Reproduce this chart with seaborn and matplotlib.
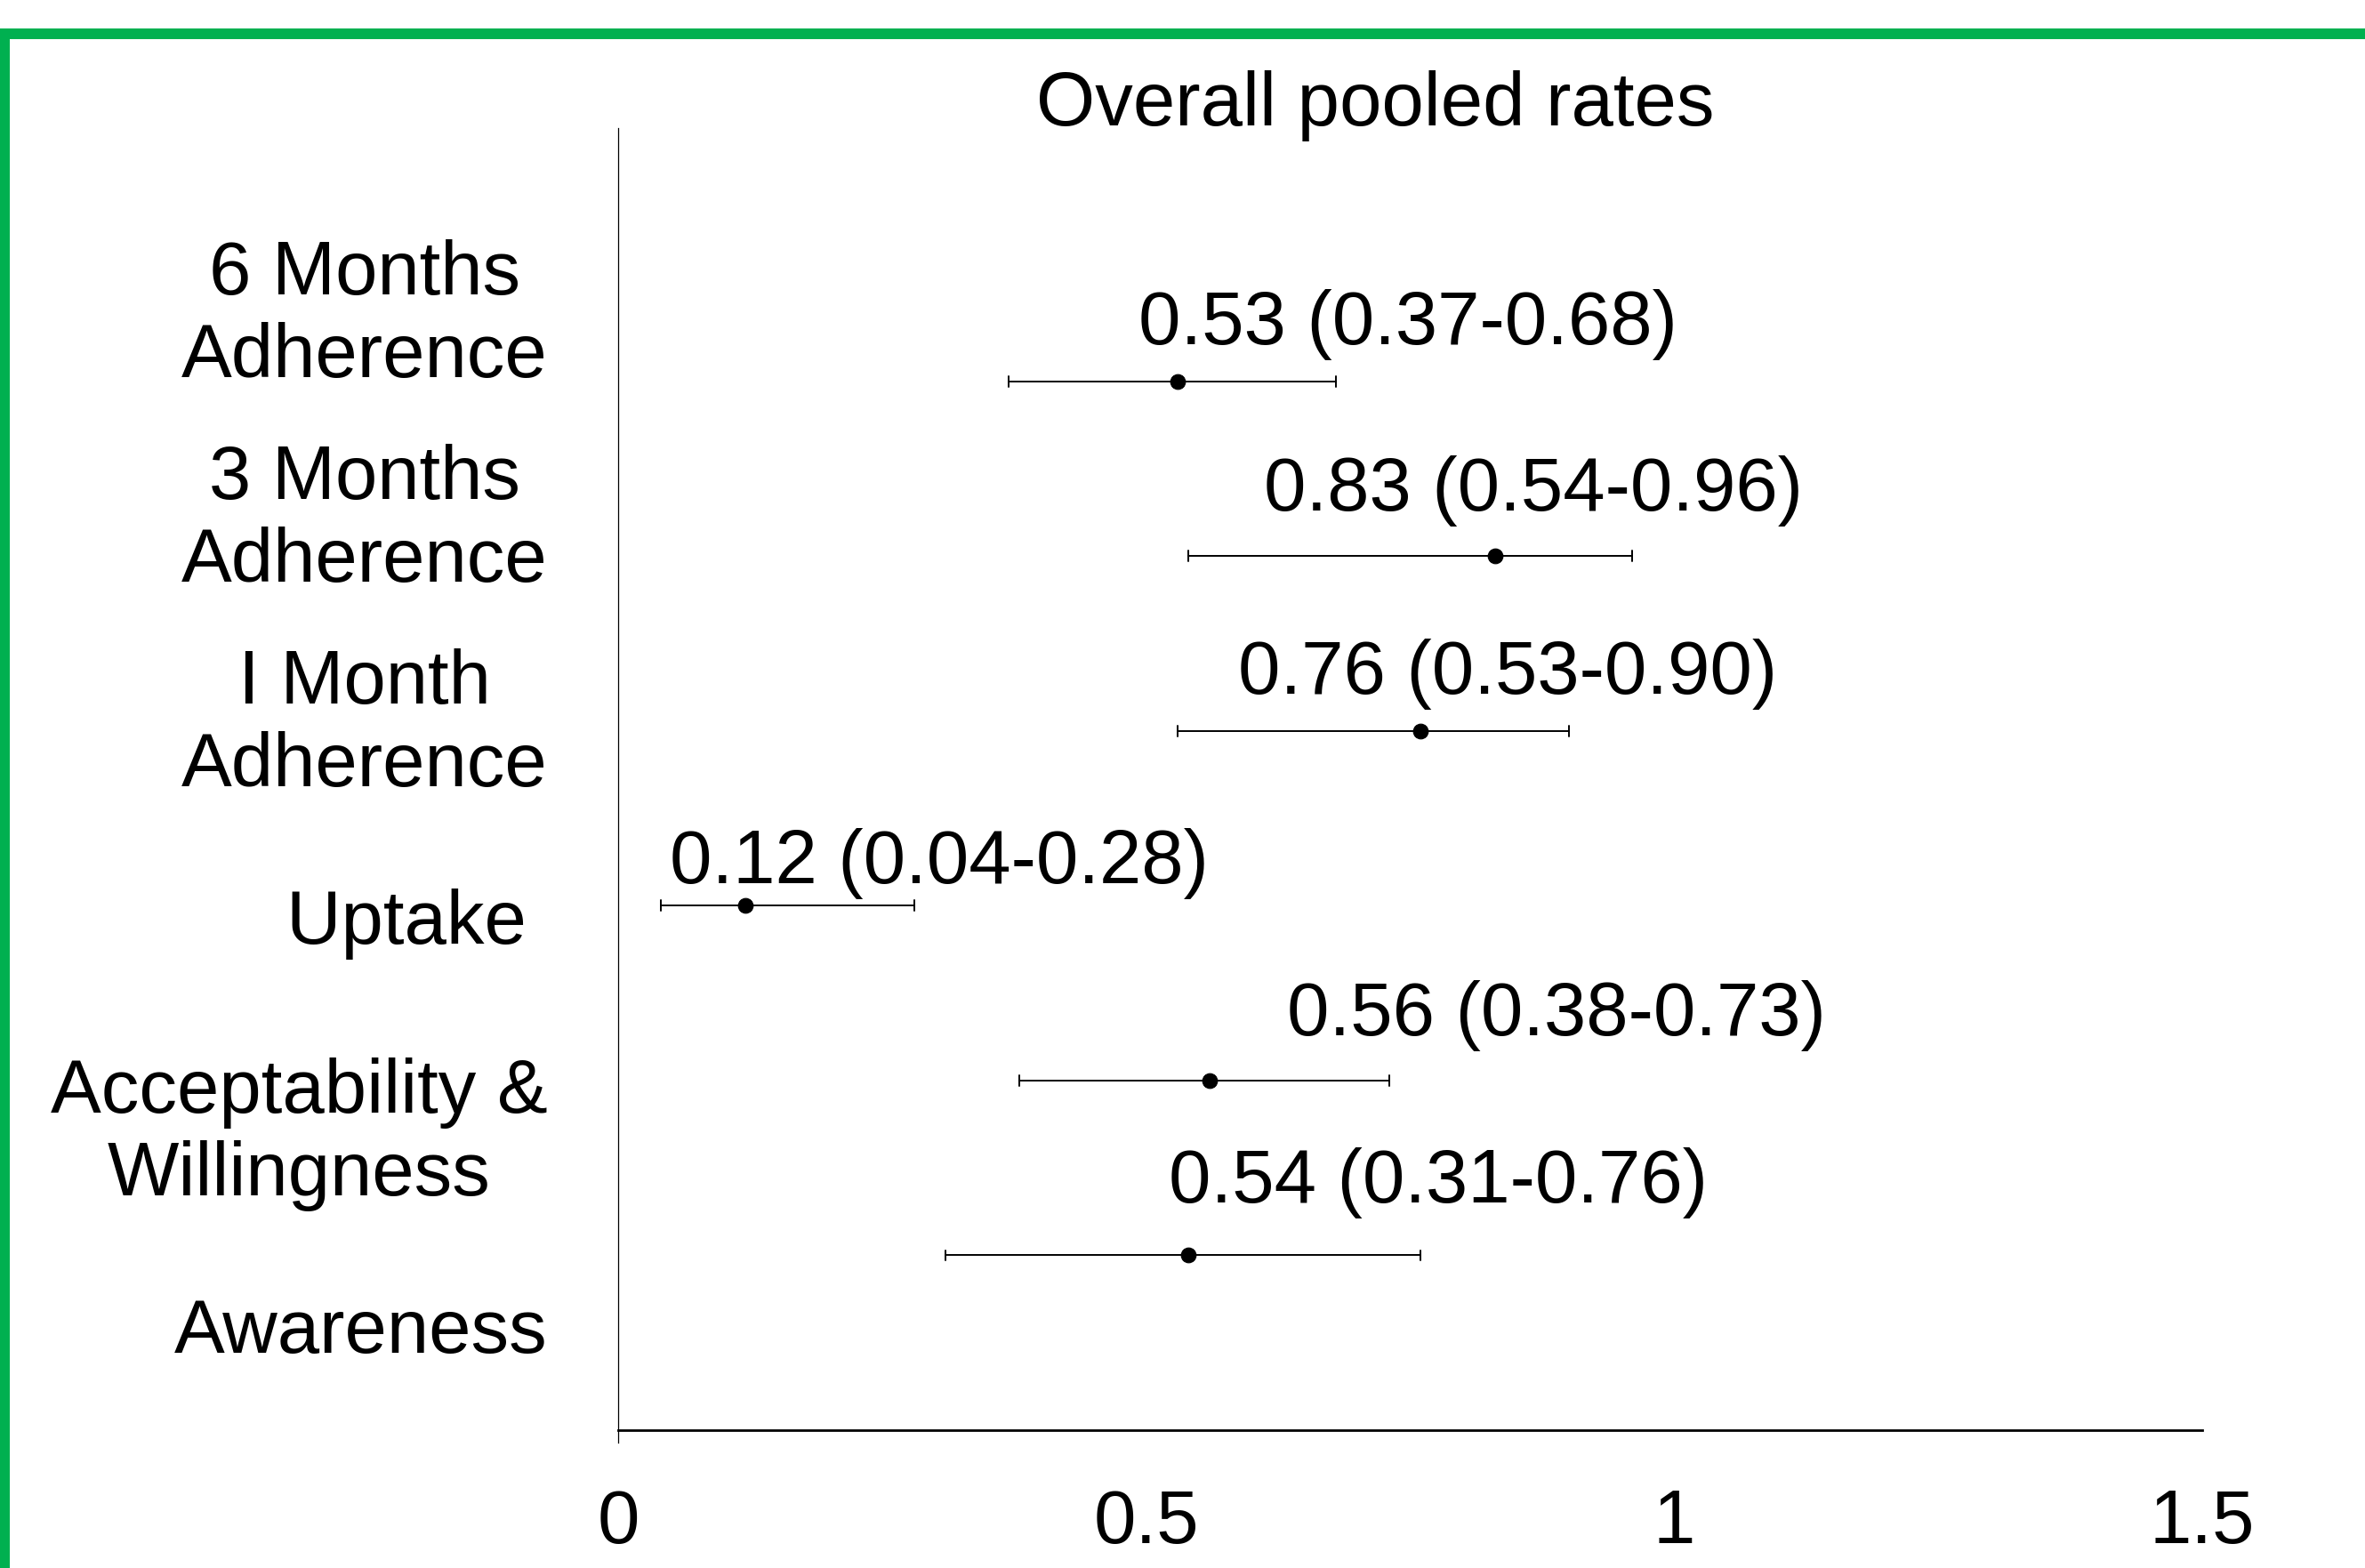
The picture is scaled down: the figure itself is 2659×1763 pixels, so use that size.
import numpy as np
import pandas as pd
import seaborn as sns
import matplotlib.pyplot as plt
from matplotlib.patches import Rectangle

# --- data ---
categories = ['6 Months Adherence', '3 Months Adherence', 'I Month Adherence',
              'Uptake', 'Acceptability & Willingness', 'Awareness']
tick_labels = ['6 Months\nAdherence', '3 Months\nAdherence', 'I Month\nAdherence',
               'Uptake ', 'Acceptability &\nWillingness', 'Awareness']
rate = [0.53, 0.83, 0.76, 0.12, 0.56, 0.54]
lower = [0.37, 0.54, 0.53, 0.04, 0.38, 0.31]
upper = [0.68, 0.96, 0.90, 0.28, 0.73, 0.76]
x_ticks = [0, 0.5, 1, 1.5]
x_tick_labels = ['0', '0.5', '1', '1.5']
title = 'Overall pooled rates'

# layout of the value labels: left edge (data x) and rise above the point (pt)
label_x = [0.493, 0.611, 0.587, 0.049, 0.633, 0.521]
label_rise = [30, 37, 30, 18, 37, 43]

FS = 61.3
GREEN = '#00B050'

sns.set_theme(style='white')
plt.rcParams['font.family'] = ['Liberation Sans', 'DejaVu Sans']

# long table: lower, point and upper value for each category
df = pd.DataFrame({
    'category': np.repeat(categories, 3),
    'value': np.column_stack([lower, rate, upper]).ravel(),
})

fig = plt.figure(figsize=(26.59, 17.63), dpi=100)
ax = fig.add_axes([0.2614, 0.0879, 0.6698, 0.8304])

# median of (lo, est, hi) is the estimate, min/max give the interval
sns.pointplot(data=df, x='value', y='category', order=categories,
              estimator='median', errorbar=lambda v: (v.min(), v.max()),
              color='black', linestyle='none', markersize=12,
              markeredgewidth=0.8, capsize=0.06,
              err_kws={'linewidth': 1.4}, ax=ax)

for i, (r, lo, hi) in enumerate(zip(rate, lower, upper)):
    ax.annotate(f'{r:.2f} ({lo:.2f}-{hi:.2f})', xy=(label_x[i], i),
                xytext=(0, label_rise[i]), textcoords='offset points',
                ha='left', va='baseline', fontsize=FS, color='black')

ax.set_xlim(0, 1.5)
ax.set_ylim(6.0, -1.448)
ax.set_xticks(x_ticks)
ax.set_xticklabels(x_tick_labels, fontsize=FS)
ax.set_yticks(np.linspace(-0.45, 5.40, len(categories)))
ax.set_yticklabels(tick_labels, fontsize=FS, multialignment='center')
ax.tick_params(axis='x', length=0, pad=47, colors='black')
ax.tick_params(axis='y', length=0, pad=57, colors='black')
ax.set_xlabel('')
ax.set_ylabel('')
ax.grid(False)

for side in ['top', 'right']:
    ax.spines[side].set_visible(False)
ax.spines['left'].set_color('black')
ax.spines['left'].set_linewidth(0.9)
ax.spines['left'].set_bounds(-1.448, 6.07)
ax.spines['bottom'].set_color('black')
ax.spines['bottom'].set_linewidth(2.0)

ax.set_title(title, fontsize=FS, x=0.478, pad=2, color='black')

# green frame along top and left edge
fig.add_artist(Rectangle((0, 1 - 44 / 1763), 1, 12 / 1763,
                         transform=fig.transFigure, color=GREEN, lw=0))
fig.add_artist(Rectangle((0, 0), 11 / 2659, 1 - 32 / 1763,
                         transform=fig.transFigure, color=GREEN, lw=0))

fig.savefig('out.png', dpi=100)
